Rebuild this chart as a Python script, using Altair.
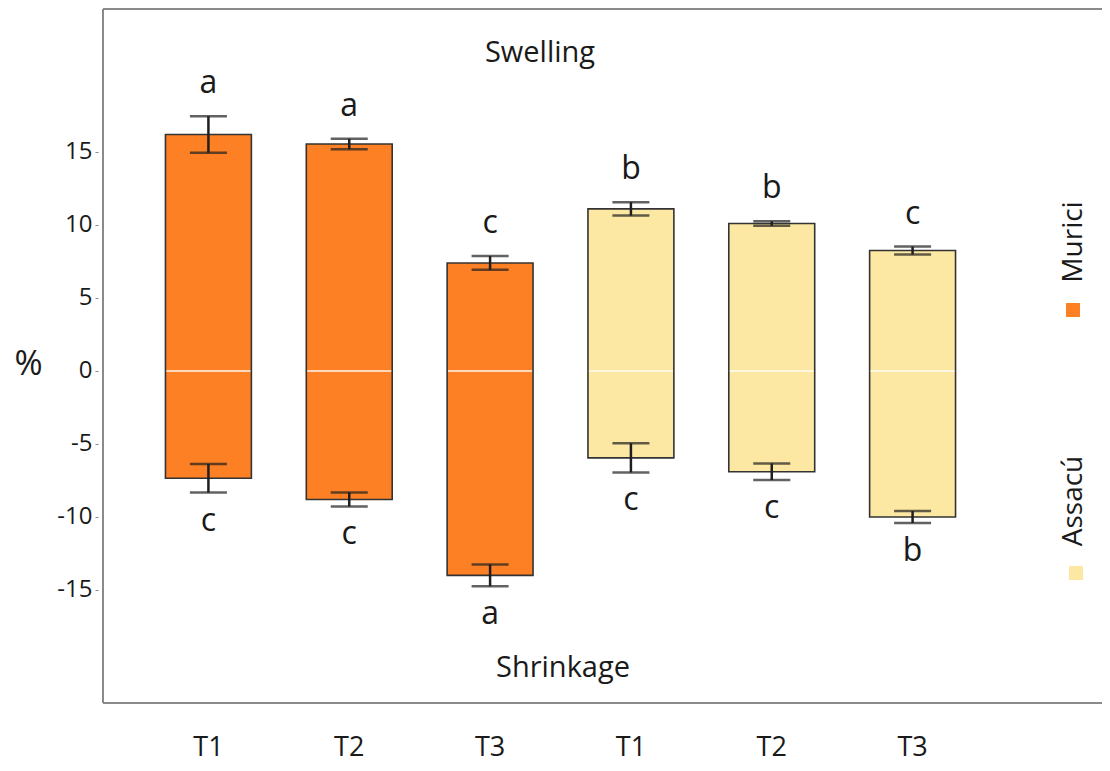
import altair as alt
import pandas as pd

# ---- data ----
species = ["Murici", "Murici", "Murici", "Assacú", "Assacú", "Assacú"]
treatments = ["T1", "T2", "T3", "T1", "T2", "T3"]
swell_mean = [16.2, 15.55, 7.4, 11.1, 10.1, 8.25]
swell_err = [1.25, 0.36, 0.47, 0.46, 0.15, 0.27]
shrink_mean = [-7.35, -8.8, -14.0, -5.95, -6.9, -10.0]
shrink_err = [0.98, 0.48, 0.75, 1.0, 0.57, 0.41]
swell_letter = ["a", "a", "c", "b", "b", "c"]
shrink_letter = ["c", "c", "a", "c", "c", "b"]
y_ticks = [-15, -10, -5, 0, 5, 10, 15]
species_order = ["Murici", "Assacú"]
species_colors = ["#FD8024", "#FCE8A2"]

keys = [f"{s}|{t}" for s, t in zip(species, treatments)]
bars = pd.DataFrame({"key": keys, "species": species,
                     "swell": swell_mean, "shrink": shrink_mean})
err = pd.DataFrame({
    "key": keys * 2,
    "end": ["swell"] * 6 + ["shrink"] * 6,
    "mean": swell_mean + shrink_mean,
    "err": swell_err + shrink_err,
    "letter": swell_letter + shrink_letter,
})
one = pd.DataFrame({"k": [0]})

W, H = 999, 695
FONT = "Open Sans"
INK = "#1a1a1a"
FRAME = "#8a8a8a"

xscale = alt.Scale(domain=keys, range=[35, 880], paddingInner=0.39, paddingOuter=0.195)
yscale = alt.Scale(domain=[-22.74, 24.86], nice=False, zero=False)

X = alt.X("key:N", scale=xscale, sort=keys, title=None,
          axis=alt.Axis(labelExpr="split(datum.label, '|')[1]", labelAngle=0,
                        labelFontSize=27, labelColor=INK, labelPadding=52,
                        labelBaseline="alphabetic",
                        ticks=False, domain=False, grid=False, labelFont=FONT))

bar_layer = alt.Chart(bars).mark_bar(stroke="#333333", strokeWidth=1.6).encode(
    x=X,
    y=alt.Y("shrink:Q", scale=yscale, title="%",
            axis=alt.Axis(values=y_ticks, labelExpr="'' + datum.value",
                          labelFontSize=24, labelColor=INK, labelPadding=3,
                          tickSize=3, tickColor=FRAME, tickWidth=1,
                          domain=False, grid=False, offset=5,
                          titleAngle=0, titleFontSize=34, titleFontWeight="normal",
                          titleColor=INK, titleX=-70, titleY=356,
                          titleAlign="center", titleBaseline="middle",
                          labelFont=FONT, titleFont=FONT)),
    y2="swell:Q",
    color=alt.Color("species:N", scale=alt.Scale(domain=species_order, range=species_colors),
                    legend=None),
)

zero_line = alt.Chart(bars).mark_tick(color="white", thickness=2, size=84,
                                      orient="horizontal").encode(
    x=alt.X("key:N", scale=xscale, sort=keys), y=alt.datum(0))

err_base = alt.Chart(err).transform_calculate(
    lo="datum.mean - datum.err", hi="datum.mean + datum.err")

stems = err_base.mark_rule(color="#1f1f1f", strokeWidth=2.5).encode(
    x=alt.X("key:N", scale=xscale, sort=keys), y="lo:Q", y2="hi:Q")
caps_lo = err_base.mark_tick(color="#1f1f1f", thickness=2.5, size=37,
                             orient="horizontal").encode(
    x=alt.X("key:N", scale=xscale, sort=keys), y="lo:Q")
caps_hi = err_base.mark_tick(color="#1f1f1f", thickness=2.5, size=37,
                             orient="horizontal").encode(
    x=alt.X("key:N", scale=xscale, sort=keys), y="hi:Q")

letters_top = err_base.transform_filter("datum.end == 'swell'").mark_text(
    font=FONT, fontSize=32, color=INK, dy=-23, baseline="alphabetic").encode(
    x=alt.X("key:N", scale=xscale, sort=keys), y="hi:Q", text="letter:N")
letters_bot = err_base.transform_filter("datum.end == 'shrink'").mark_text(
    font=FONT, fontSize=32, color=INK, dy=38, baseline="alphabetic").encode(
    x=alt.X("key:N", scale=xscale, sort=keys), y="lo:Q", text="letter:N")

swelling = alt.Chart(one).mark_text(text="Swelling", font=FONT, fontSize=29,
                                    color=INK, baseline="middle").encode(
    x=alt.value(437), y=alt.datum(21.75))
shrinkage = alt.Chart(one).mark_text(text="Shrinkage", font=FONT, fontSize=29,
                                     color=INK, baseline="middle").encode(
    x=alt.value(460), y=alt.datum(-20.35))

top_border = alt.Chart(one).mark_rule(color=FRAME, strokeWidth=2).encode(
    x=alt.value(0), x2=alt.value(W), y=alt.value(1))
bottom_border = alt.Chart(one).mark_rule(color=FRAME, strokeWidth=2).encode(
    x=alt.value(0), x2=alt.value(W), y=alt.value(H))
left_border = alt.Chart(one).mark_rule(color=FRAME, strokeWidth=2).encode(
    x=alt.value(0), y=alt.value(1), y2=alt.value(H))

leg_sq1 = alt.Chart(one).mark_square(size=196, color=species_colors[0], opacity=1).encode(
    x=alt.value(970), y=alt.value(302))
leg_sq2 = alt.Chart(one).mark_square(size=196, color=species_colors[1], opacity=1).encode(
    x=alt.value(973), y=alt.value(565))
leg_t1 = alt.Chart(one).mark_text(text=species_order[0], angle=270, font=FONT,
                                  fontSize=28, color=INK, baseline="middle",
                                  align="center").encode(
    x=alt.value(971), y=alt.value(234))
leg_t2 = alt.Chart(one).mark_text(text=species_order[1], angle=270, font=FONT,
                                  fontSize=28, color=INK, baseline="middle",
                                  align="center").encode(
    x=alt.value(971), y=alt.value(493))

chart = alt.layer(
    bar_layer, zero_line, stems, caps_lo, caps_hi, letters_top, letters_bot,
    swelling, shrinkage, top_border, bottom_border, left_border,
    leg_sq1, leg_sq2, leg_t1, leg_t2,
).properties(
    width=W, height=H,
    autosize=alt.AutoSizeParams(type="none"),
    padding={"left": 95, "top": 0, "right": 0, "bottom": 60},
).configure_view(stroke=None).configure(font=FONT)

chart.save("out.html", embed_options={"renderer": "svg", "actions": False})
